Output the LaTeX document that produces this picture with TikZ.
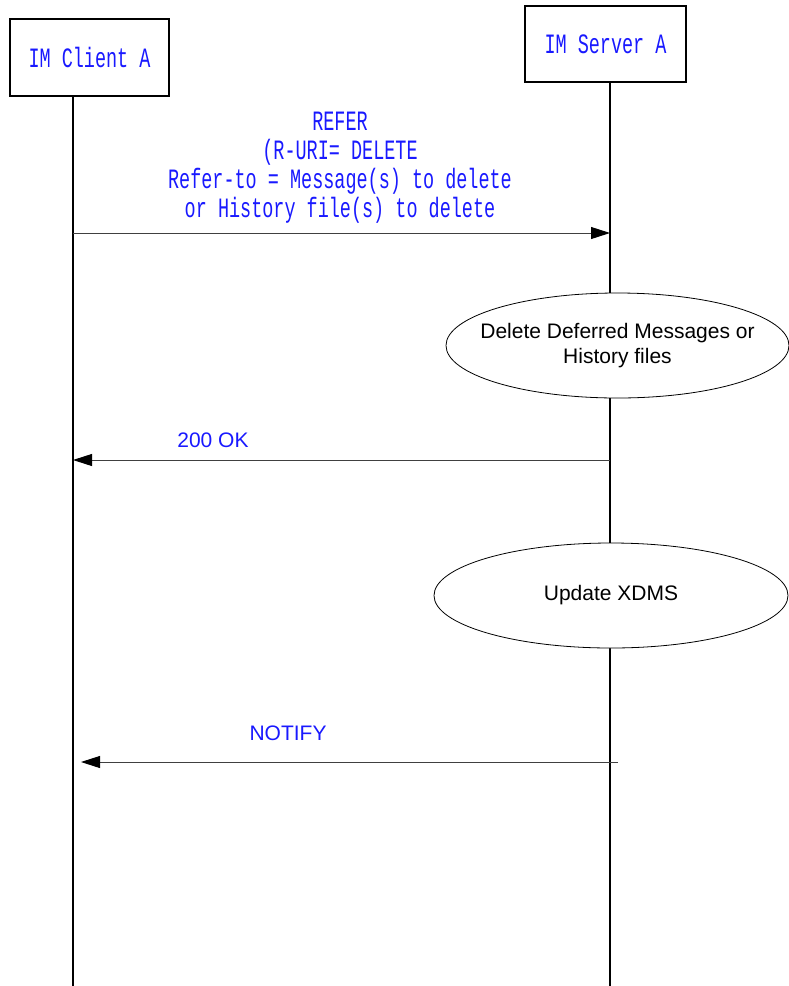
\documentclass[tikz,border=0pt]{standalone}
\usepackage{fontspec}
\setmainfont{Liberation Sans}
\newfontfamily\monocond[FakeStretch=0.66]{Liberation Mono}
\usepackage{tikz}
\definecolor{msgblue}{RGB}{25,25,255}
\usetikzlibrary{arrows.meta, shapes.geometric, positioning}

\begin{document}
\begin{tikzpicture}[x=1pt, y=-1pt,
				>={Triangle[length=19pt,width=12pt,color=black]},   %Pfeilspitzen
				entity/.style={draw, line width=1.4pt, inner sep=0pt, text=msgblue, font=\monocond\fontsize{28}{29}\selectfont},
				action/.style={ellipse, draw, fill=white, line width=0.8pt, inner sep=0pt, align=center, font=\fontsize{21}{25}\selectfont},
				lifeline/.style={line width=1.4pt},
				msg/.style={->, line width=0.9pt, draw=black!75},
				msgtext/.style={text=msgblue, align=center}]
				%Bildbereich
				\useasboundingbox (0,0) rectangle (789,986);
				% Instanzen
				\node[entity, minimum width=159pt, minimum height=77pt] (cli) at (89.5,57.5) {IM Client A};
				\node[entity, minimum width=161pt, minimum height=76pt] (srv) at (605.5,44) {IM Server A};
				% Lebenslinien
				\coordinate (cliEnd) at (73,986);
				\coordinate (srvEnd) at (610,986);
				\draw[lifeline] (cli.south -| cliEnd) -- (cliEnd);
				\draw[lifeline] (srv.south -| srvEnd) -- (srvEnd);
				% Aktionen beim Server
				\node[action, inner xsep=-16pt, minimum width=343pt, minimum height=105pt] (del) at (617.5,345.5) {Delete Deferred Messages or\\History files};
				\node[action, minimum width=354pt, minimum height=105pt] (upd) at (611,595.5) {Update XDMS};
				% Nachrichten
				\coordinate (refA) at (73,233);
				\coordinate (refB) at (610,233);
				\draw[msg] (refA) -- (refB);
				\node[msgtext, font=\monocond\fontsize{28}{29}\selectfont] (refLbl) at (340,168) {REFER\\(R-URI= DELETE\\Refer-to = Message(s) to delete\\or History file(s) to delete};
				\coordinate (okA) at (610,460);
				\coordinate (okB) at (73,460);
				\draw[msg] (okA) -- (okB);
				\node[msgtext, font=\fontsize{21}{25}\selectfont] (okLbl) at (213,440) {200 OK};
				\coordinate (notA) at (618,762);
				\coordinate (notB) at (81,762);
				\draw[msg] (notA) -- (notB);
				\node[msgtext, font=\fontsize{21}{25}\selectfont] (notLbl) at (288,733) {NOTIFY};
			\end{tikzpicture}
\end{document}
